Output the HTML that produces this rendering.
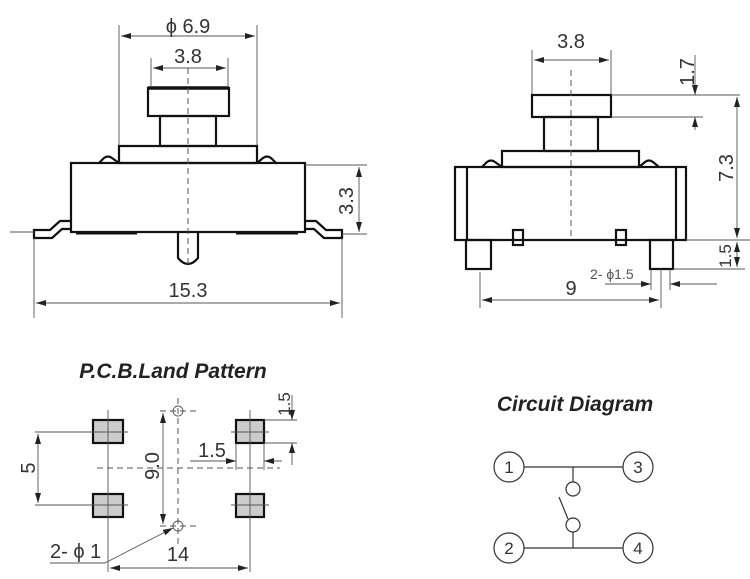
<!DOCTYPE html>
<html><head><meta charset="utf-8"><style>
html,body{margin:0;padding:0;background:#fff}
svg{display:block}
text{font-family:"Liberation Sans",sans-serif;fill:#333}
.t{font-size:20px}
.th{stroke:#111;stroke-width:2.2;fill:none}
.tn{stroke:#555;stroke-width:0.9;fill:none}
.d{stroke:#555;stroke-width:1;fill:none;stroke-dasharray:6,4}
.h{font-weight:bold;font-style:italic;font-size:21px;fill:#222}
</style></head><body>
<svg width="750" height="579" viewBox="0 0 750 579" xmlns="http://www.w3.org/2000/svg">
<defs>
<marker id="a" viewBox="0 0 10 6" refX="10" refY="3" markerWidth="12" markerHeight="6" markerUnits="userSpaceOnUse" orient="auto-start-reverse"><path d="M0,0L10,3L0,6z" fill="#222"/></marker>
</defs>
<!-- LEFT VIEW -->
<g>
<line class="tn" x1="119" y1="25" x2="119" y2="148"/>
<line class="tn" x1="257" y1="25" x2="257" y2="148"/>
<line class="tn" x1="121" y1="36" x2="255" y2="36" marker-start="url(#a)" marker-end="url(#a)"/>
<text class="t" x="188" y="33" text-anchor="middle">ϕ 6.9</text>
<line class="tn" x1="151" y1="58" x2="151" y2="86"/>
<line class="tn" x1="228" y1="58" x2="228" y2="86"/>
<line class="tn" x1="153" y1="68" x2="226" y2="68" marker-start="url(#a)" marker-end="url(#a)"/>
<text class="t" x="188" y="63" text-anchor="middle">3.8</text>
<rect class="th" x="148" y="88" width="81" height="28"/>
<line x1="148" y1="88" x2="229" y2="88" stroke="#111" stroke-width="3.5"/>
<rect class="th" x="160" y="116" width="56" height="30"/>
<rect class="th" x="119" y="146" width="138" height="17"/>
<path class="th" d="M99,163 L104,158 Q108,155 112,158 L119,163"/>
<path class="th" d="M257,163 L263,158 Q267,155 271,158 L276,163"/>
<rect class="th" x="71" y="163" width="234" height="69"/>
<path class="th" d="M71,221 L60,221 L50,230 L34,230 L34,238 L52,238 L62,229 L71,229"/>
<path class="th" d="M305,221 L316,221 L326,230 L342,230 L342,238 L324,238 L314,229 L305,229"/>
<line x1="76" y1="233" x2="137" y2="233" stroke="#111" stroke-width="3"/>
<line x1="236" y1="233" x2="298" y2="233" stroke="#111" stroke-width="3"/>
<path class="th" d="M178,233 L178,258 Q188,270 198,258 L198,233"/>
<line class="tn" x1="10" y1="232" x2="34" y2="232"/>
<line class="d" x1="188" y1="68" x2="188" y2="265"/>
<line class="tn" x1="305" y1="165" x2="367" y2="165"/>
<line class="tn" x1="342" y1="234" x2="367" y2="234"/>
<line class="tn" x1="359" y1="167" x2="359" y2="232" marker-start="url(#a)" marker-end="url(#a)"/>
<text class="t" transform="translate(353,201) rotate(-90)" text-anchor="middle">3.3</text>
<line class="tn" x1="34" y1="238" x2="34" y2="318"/>
<line class="tn" x1="342" y1="238" x2="342" y2="318"/>
<line class="tn" x1="36" y1="303" x2="340" y2="303" marker-start="url(#a)" marker-end="url(#a)"/>
<text class="t" x="188" y="297" text-anchor="middle">15.3</text>
</g>
<!-- RIGHT VIEW -->
<g>
<line class="tn" x1="532" y1="50" x2="532" y2="94"/>
<line class="tn" x1="611" y1="50" x2="611" y2="94"/>
<line class="tn" x1="534" y1="60" x2="609" y2="60" marker-start="url(#a)" marker-end="url(#a)"/>
<text class="t" x="571" y="48" text-anchor="middle">3.8</text>
<rect class="th" x="532" y="95" width="79" height="22"/>
<rect class="th" x="544" y="117" width="54" height="34"/>
<rect class="th" x="502" y="151" width="137" height="16"/>
<path class="th" d="M482,167 L487,162 Q491,159 495,162 L502,167"/>
<path class="th" d="M639,167 L645,162 Q649,159 653,162 L659,167"/>
<rect class="th" x="455" y="167" width="231" height="73"/>
<line class="th" x1="467" y1="167" x2="467" y2="240"/>
<line class="th" x1="676" y1="167" x2="676" y2="240"/>
<rect class="th" x="466" y="240" width="25" height="29"/>
<rect class="th" x="650" y="240" width="23" height="29"/>
<rect class="th" x="513" y="230" width="10" height="15"/>
<rect class="th" x="616" y="230" width="10" height="15"/>
<line class="d" x1="571" y1="70" x2="571" y2="240"/>
<line class="tn" x1="611" y1="95" x2="740" y2="95"/>
<line class="tn" x1="611" y1="117" x2="703" y2="117"/>
<line class="tn" x1="695" y1="55" x2="695" y2="95" marker-end="url(#a)"/>
<line class="tn" x1="695" y1="130" x2="695" y2="117" marker-end="url(#a)"/>
<text class="t" transform="translate(694,72) rotate(-90)" text-anchor="middle">1.7</text>
<line class="tn" x1="737" y1="97" x2="737" y2="238" marker-start="url(#a)" marker-end="url(#a)"/>
<text class="t" transform="translate(733,168) rotate(-90)" text-anchor="middle">7.3</text>
<line class="tn" x1="686" y1="240" x2="750" y2="240"/>
<line class="tn" x1="673" y1="269" x2="745" y2="269"/>
<line class="tn" x1="737" y1="242" x2="737" y2="267" marker-start="url(#a)" marker-end="url(#a)"/>
<text class="t" transform="translate(731,256) rotate(-90)" text-anchor="middle" style="font-size:17px">1.5</text>
<text x="590" y="279" style="font-size:14px;fill:#555">2- ϕ1.5</text>
<line class="tn" x1="605" y1="284" x2="651" y2="284" marker-end="url(#a)"/>
<line class="tn" x1="717" y1="284" x2="670" y2="284" marker-end="url(#a)"/>
<line class="tn" x1="651" y1="269" x2="651" y2="290"/>
<line class="tn" x1="670" y1="269" x2="670" y2="290"/>
<line class="tn" x1="480" y1="272" x2="480" y2="308"/>
<line class="tn" x1="661" y1="269" x2="661" y2="308"/>
<line class="tn" x1="482" y1="300" x2="659" y2="300" marker-start="url(#a)" marker-end="url(#a)"/>
<text class="t" x="571" y="295" text-anchor="middle">9</text>
</g>
<!-- PCB -->
<g>
<text class="h" x="173" y="378" text-anchor="middle">P.C.B.Land Pattern</text>
<g fill="#ccc" stroke="#111" stroke-width="2.2">
<rect x="93" y="420" width="30" height="23"/>
<rect x="93" y="494" width="30" height="23"/>
<rect x="236" y="420" width="28" height="23"/>
<rect x="236" y="494" width="28" height="23"/>
</g>
<g class="tn">
<line x1="108" y1="410" x2="108" y2="572"/><line x1="88" y1="432" x2="128" y2="432"/><line x1="88" y1="505" x2="128" y2="505"/>
<line x1="250" y1="410" x2="250" y2="572"/><line x1="231" y1="432" x2="269" y2="432"/><line x1="231" y1="505" x2="269" y2="505"/>
<circle cx="178" cy="411" r="5"/><circle cx="178" cy="526" r="5"/>
<line x1="35" y1="432" x2="95" y2="432"/><line x1="35" y1="505" x2="95" y2="505"/>
<line x1="38" y1="434" x2="38" y2="503" marker-start="url(#a)" marker-end="url(#a)"/>
<line x1="163" y1="413" x2="163" y2="524" marker-start="url(#a)" marker-end="url(#a)"/>
<line x1="190" y1="461" x2="236" y2="461" marker-end="url(#a)"/>
<line x1="282" y1="461" x2="264" y2="461" marker-end="url(#a)"/>
<line x1="236" y1="443" x2="236" y2="470"/><line x1="264" y1="443" x2="264" y2="470"/>
<line x1="264" y1="420" x2="297" y2="420"/><line x1="264" y1="443" x2="297" y2="443"/>
<line x1="292" y1="395" x2="292" y2="420" marker-end="url(#a)"/>
<line x1="292" y1="465" x2="292" y2="443" marker-end="url(#a)"/>
<line x1="105" y1="563" x2="173" y2="528" marker-end="url(#a)"/>
<line x1="50" y1="563" x2="105" y2="563"/>
<line x1="110" y1="568" x2="248" y2="568" marker-start="url(#a)" marker-end="url(#a)"/>
</g>
<g class="d">
<line x1="178" y1="398" x2="178" y2="545"/>
<line x1="160" y1="411" x2="200" y2="411"/><line x1="160" y1="526" x2="200" y2="526"/>
<line x1="97" y1="468" x2="280" y2="468"/>
</g>
<text class="t" transform="translate(35,468) rotate(-90)" text-anchor="middle">5</text>
<text class="t" transform="translate(159,466) rotate(-90)" text-anchor="middle">9.0</text>
<text class="t" x="212" y="457" text-anchor="middle">1.5</text>
<text class="t" transform="translate(290,404) rotate(-90)" text-anchor="middle" style="font-size:17px">1.5</text>
<text class="t" x="50" y="558">2- ϕ 1</text>
<text class="t" x="178" y="561" text-anchor="middle">14</text>
</g>
<!-- CIRCUIT -->
<g>
<text class="h" x="575" y="411" text-anchor="middle">Circuit Diagram</text>
<g stroke="#333" stroke-width="1.2" fill="none">
<circle cx="509" cy="467" r="15"/><circle cx="638" cy="467" r="15"/>
<circle cx="509" cy="548" r="15"/><circle cx="638" cy="548" r="15"/>
<line x1="524" y1="467" x2="623" y2="467"/><line x1="524" y1="548" x2="623" y2="548"/>
<line x1="573" y1="467" x2="573" y2="482"/><circle cx="573" cy="489" r="7"/>
<circle cx="573" cy="525" r="7"/><line x1="573" y1="532" x2="573" y2="548"/>
<line x1="559" y1="497" x2="568" y2="519"/>
</g>
<g style="font-size:17px" text-anchor="middle">
<text x="509" y="473">1</text><text x="638" y="473">3</text>
<text x="509" y="554">2</text><text x="638" y="554">4</text>
</g>
</g>
</svg>
</body></html>
